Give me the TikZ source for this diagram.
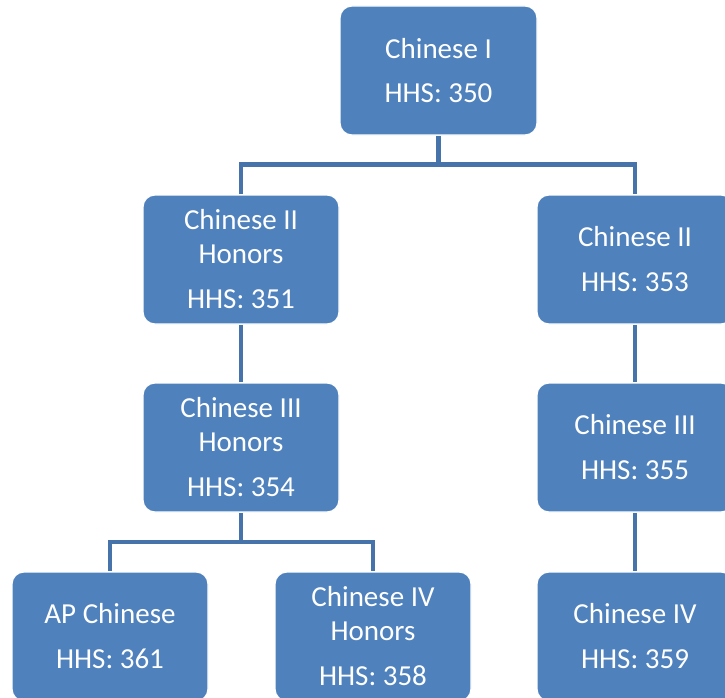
\documentclass[tikz,border=0pt]{standalone}
\usepackage{fontspec}
\setmainfont{Carlito}
\usetikzlibrary{backgrounds}
\definecolor{boxblue}{HTML}{4F81BD}
\definecolor{linkblue}{HTML}{4673AA}
\begin{document}
\begin{tikzpicture}[x=1pt,y=-1pt,
  course/.style={draw=white,line width=1.2pt,fill=boxblue,rounded corners=12pt,
    minimum width=196pt,minimum height=129pt,inner sep=0pt,align=center,
    text=white,font=\fontsize{29}{34}\selectfont},
  link/.style={draw=linkblue,line width=4.5pt}]
\useasboundingbox (0,0) rectangle (725,698);
\clip (0,0) rectangle (725,698);
\node[course,minimum width=197pt] (c1) at (438.5,70.5) {Chinese I\\[10pt]HHS: 350};
\node[course] (c2h) at (241,259.5) {Chinese II\\Honors\\[11pt]HHS: 351};
\node[course] (c2) at (635,259.5) {Chinese II\\[11pt]HHS: 353};
\node[course] (c3h) at (241,447.5) {Chinese III\\Honors\\[11pt]HHS: 354};
\node[course] (c3) at (635,447.5) {Chinese III\\[11pt]HHS: 355};
\node[course] (ap) at (110,636.5) {AP Chinese\\[11pt]HHS: 361};
\node[course] (c4h) at (373,636.5) {Chinese IV\\Honors\\[11pt]HHS: 358};
\node[course] (c4) at (635,636.5) {Chinese IV\\[11pt]HHS: 359};
\coordinate (j1) at (438.5,164.5);
\coordinate (j2) at (241,542);
\begin{scope}[on background layer]
\draw[link] (c1.south) -- (j1) -| (c2h.north);
\draw[link] (j1) -| (c2.north);
\draw[link] (c2h.south) -- (c3h.north);
\draw[link] (c2.south) -- (c3.north);
\draw[link] (c3h.south) -- (j2) -| (ap.north);
\draw[link] (j2) -| (c4h.north);
\draw[link] (c3.south) -- (c4.north);
\end{scope}
\end{tikzpicture}
\end{document}
